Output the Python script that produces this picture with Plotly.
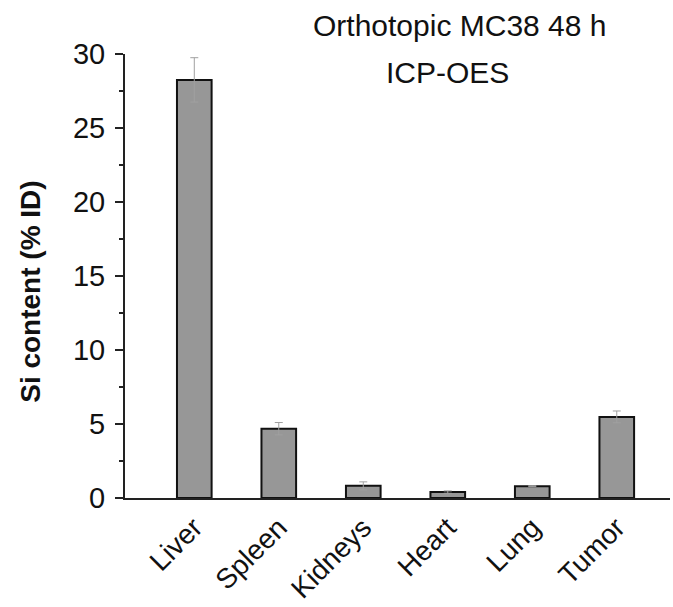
import plotly.graph_objects as go

organs = ["Liver", "Spleen", "Kidneys", "Heart", "Lung", "Tumor"]
si_content = [28.25, 4.68, 0.82, 0.4, 0.8, 5.48]
si_error = [1.5, 0.42, 0.27, 0.08, 0.03, 0.4]
y_ticks = [0, 5, 10, 15, 20, 25, 30]

FONT = "Liberation Sans, Arial, sans-serif"
W, H = 673, 607
L, R, T, B = 125, 3, 54, 103
PW, PH = W - L - R, H - T - B


def px(x):
    return (x - L) / PW


def py(y):
    return (H - B - y) / PH


fig = go.Figure()
fig.add_trace(go.Bar(
    x=organs, y=si_content,
    marker=dict(color="#979797", line=dict(color="#111111", width=2)),
    error_y=dict(type="data", array=si_error, visible=True,
                 color="#a0a0a0", thickness=1, width=4),
    width=0.41,
))

fig.update_layout(
    width=W, height=H,
    margin=dict(l=L, r=R, t=T, b=B),
    plot_bgcolor="white", paper_bgcolor="white",
    showlegend=False,
    font=dict(family=FONT, color="#111111"),
)
fig.update_xaxes(
    range=[-0.82, 5.63],
    showline=True, linecolor="#222222", linewidth=2,
    ticks="", tickangle=-45,
    tickfont=dict(size=28, color="#111111"),
    showgrid=False,
)
fig.update_yaxes(
    range=[0, 30],
    tickvals=y_ticks,
    showline=True, linecolor="#222222", linewidth=2,
    ticks="outside", ticklen=8, tickwidth=2, tickcolor="#222222",
    ticklabelstandoff=4,
    minor=dict(dtick=2.5, ticks="outside", ticklen=4, tickwidth=2, tickcolor="#222222"),
    tickfont=dict(size=29, color="#111111"),
    showgrid=False, zeroline=False,
)

fig.add_annotation(text="<b>Si content (% ID)</b>", xref="paper", yref="paper",
                   x=px(31), y=py(295), xanchor="center", yanchor="middle",
                   textangle=-90, showarrow=False,
                   font=dict(size=28, color="#111111", family=FONT))
fig.add_annotation(text="Orthotopic MC38 48 h", xref="paper", yref="paper",
                   x=px(608), y=py(25), xanchor="right", yanchor="middle",
                   showarrow=False, font=dict(size=30, color="#111111", family=FONT))
fig.add_annotation(text="ICP-OES", xref="paper", yref="paper",
                   x=px(384), y=py(73), xanchor="left", yanchor="middle",
                   showarrow=False, font=dict(size=30, color="#111111", family=FONT))

fig.write_html("out.html")
